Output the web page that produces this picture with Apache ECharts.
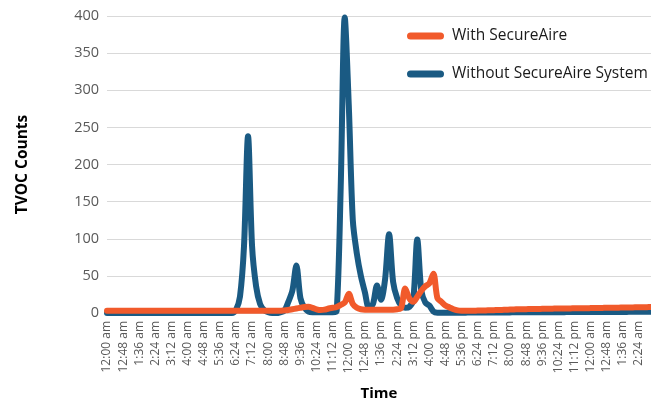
<!DOCTYPE html>
<html>
<head>
<meta charset="utf-8">
<script src="https://cdn.jsdelivr.net/npm/echarts/dist/echarts.min.js"></script>
<style>
html,body{margin:0;padding:0;background:#fff;}
#chart{width:651px;height:405px;}
</style>
</head>
<body>
<div id="chart"></div>
<script>
// Time categories, 12-minute steps
const categories = [
"12:00 am","12:12 am","12:24 am","12:36 am","12:48 am",
"1:00 am","1:12 am","1:24 am","1:36 am","1:48 am",
"2:00 am","2:12 am","2:24 am","2:36 am","2:48 am",
"3:00 am","3:12 am","3:24 am","3:36 am","3:48 am",
"4:00 am","4:12 am","4:24 am","4:36 am","4:48 am",
"5:00 am","5:12 am","5:24 am","5:36 am","5:48 am",
"6:00 am","6:12 am","6:24 am","6:36 am","6:48 am",
"7:00 am","7:12 am","7:24 am","7:36 am","7:48 am",
"8:00 am","8:12 am","8:24 am","8:36 am","8:48 am",
"9:00 am","9:12 am","9:24 am","9:36 am","9:48 am",
"10:00 am","10:12 am","10:24 am","10:36 am","10:48 am",
"11:00 am","11:12 am","11:24 am","11:36 am","11:48 am",
"12:00 pm","12:12 pm","12:24 pm","12:36 pm","12:48 pm",
"1:00 pm","1:12 pm","1:24 pm","1:36 pm","1:48 pm",
"2:00 pm","2:12 pm","2:24 pm","2:36 pm","2:48 pm",
"3:00 pm","3:12 pm","3:24 pm","3:36 pm","3:48 pm",
"4:00 pm","4:12 pm","4:24 pm","4:36 pm","4:48 pm",
"5:00 pm","5:12 pm","5:24 pm","5:36 pm","5:48 pm",
"6:00 pm","6:12 pm","6:24 pm","6:36 pm","6:48 pm",
"7:00 pm","7:12 pm","7:24 pm","7:36 pm","7:48 pm",
"8:00 pm","8:12 pm","8:24 pm","8:36 pm","8:48 pm",
"9:00 pm","9:12 pm","9:24 pm","9:36 pm","9:48 pm",
"10:00 pm","10:12 pm","10:24 pm","10:36 pm","10:48 pm",
"11:00 pm","11:12 pm","11:24 pm","11:36 pm","11:48 pm",
"12:00 am","12:12 am","12:24 am","12:36 am","12:48 am",
"1:00 am","1:12 am","1:24 am","1:36 am","1:48 am",
"2:00 am","2:12 am","2:24 am","2:36 am","2:48 am",
"3:00 am"
];

// With SecureAire (orange)
const withSecureAire = [
3,3,3,3,3,3,3,3,3,3,
3,3,3,3,3,3,3,3,3,3,
3,3,3,3,3,3,3,3,3,3,
3,3,3,3,3,3,3,3,3,3,
3,3,3,3,3.5,4,5,6,7,8,
8.5,7,5,4,4.5,6,7,8,11,14,
26,12,7,5,4.5,4.5,4.5,4.5,4.5,4.5,
4.5,4.5,5,7,33,20,15,22,30,36,
40,53,20,15,10,7.5,5,3.5,3,3,
3,3.1,3.2,3.3,3.5,3.6,3.8,4,4.2,4.4,
4.6,4.8,5,5.1,5.2,5.3,5.4,5.5,5.6,5.7,
5.8,5.9,6,6,6.1,6.2,6.3,6.4,6.5,6.5,
6.6,6.7,6.8,6.9,7,7,7.1,7.2,7.3,7.4,
7.5,7.6,7.7,7.8,7.9,8
];

// Without SecureAire System (blue)
const withoutSecureAire = [
0,0,0,0,0,0,0,0,0,0,
0,0,0,0,0,0,0,0,0,0,
0,0,0,0,0,0,0,0,0,0,
0,0,4,22,90,238,90,36,12,4,
1,0,0,1,3,15,30,64,20,7,
2,1,1,1,1,1,1,3,170,398,
280,125,80,50,28,7,12,37,18,45,
106,42,20,10,7,8,18,99,30,14,
10,2,0.5,0.5,0.5,0.5,0.5,0.5,0.5,0.5,
0.6,0.6,0.6,0.6,0.7,0.7,0.7,0.7,0.8,0.8,
0.8,0.9,0.9,0.9,1,1,1,1,1,1,
1,1.1,1.1,1.1,1.2,1.2,1.2,1.2,1.2,1.3,
1.3,1.3,1.3,1.4,1.4,1.4,1.5,1.5,1.5,1.5,
1.6,1.6,1.6,1.7,1.7,1.8
];

const seriesNames = ["With SecureAire", "Without SecureAire System"];
const ORANGE = "#F15A2B";
const BLUE = "#1A5A83";
const FONT = "'Open Sans', 'Noto Sans', sans-serif";
const capsule = "path://M3.5,0 L33.5,0 A3.5,3.5 0 0 1 33.5,7 L3.5,7 A3.5,3.5 0 0 1 3.5,0 Z";

const chart = echarts.init(document.getElementById('chart'), null, {renderer: 'canvas'});
chart.setOption({
  animation: false,
  textStyle: {fontFamily: FONT},
  grid: {left: 107, right: 0, top: 16, bottom: 92, containLabel: false, outerBoundsMode: 'none'},
  legend: {
    orient: 'vertical',
    left: 402,
    top: 21,
    itemWidth: 37,
    itemHeight: 7,
    itemGap: 18,
    data: [
      {name: seriesNames[0], icon: capsule},
      {name: seriesNames[1], icon: capsule}
    ],
    textStyle: {fontFamily: FONT, fontSize: 15.5, color: '#1a1a1a', lineHeight: 20, padding: [0, 0, 0, 3]}
  },
  xAxis: {
    type: 'category',
    data: categories,
    boundaryGap: false,
    name: 'Time',
    nameLocation: 'middle',
    nameGap: 73,
    nameTextStyle: {fontFamily: FONT, fontSize: 15, fontWeight: 'bold', color: '#000'},
    axisLine: {lineStyle: {color: '#d9d9d9'}},
    axisTick: {show: false},
    axisLabel: {interval: 3, rotate: 90, fontSize: 12, color: '#595959', margin: 8, fontFamily: FONT}
  },
  yAxis: {
    type: 'value',
    min: 0,
    max: 400,
    interval: 50,
    name: 'TVOC Counts',
    nameLocation: 'middle',
    nameGap: 76,
    nameTextStyle: {fontFamily: FONT, fontSize: 15.5, fontWeight: 'bold', color: '#000'},
    axisLine: {show: false},
    axisTick: {show: false},
    axisLabel: {fontSize: 14.5, color: '#595959', margin: 8, fontFamily: FONT},
    splitLine: {lineStyle: {color: '#d9d9d9', width: 1}}
  },
  series: [
    {
      name: seriesNames[1],
      type: 'line',
      data: withoutSecureAire,
      smooth: 0.3,
      showSymbol: false,
      color: BLUE,
      lineStyle: {width: 6, color: BLUE, cap: 'round', join: 'round'}
    },
    {
      name: seriesNames[0],
      type: 'line',
      data: withSecureAire,
      smooth: 0.3,
      showSymbol: false,
      color: ORANGE,
      lineStyle: {width: 6, color: ORANGE, cap: 'round', join: 'round'}
    }
  ]
});
</script>
</body>
</html>
